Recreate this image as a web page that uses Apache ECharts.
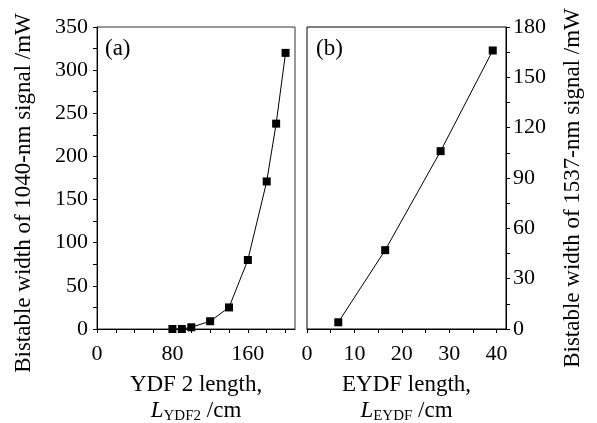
<!DOCTYPE html>
<html>
<head>
<meta charset="utf-8">
<script src="https://cdn.jsdelivr.net/npm/echarts@6/dist/echarts.min.js"></script>
<style>
  html, body { margin: 0; padding: 0; background: #fff; }
  #main { width: 597px; height: 423px; }
</style>
</head>
<body>
<div id="main"></div>
<script>
// (a) YDF 2 length vs bistable width of 1040-nm signal
const lenA = [80, 90, 100, 120, 140, 160, 180, 190, 200]
const widthA = [0, 0, 2, 9, 25, 80, 171, 238, 320]
// (b) EYDF length vs bistable width of 1537-nm signal
const lenB = [6.6, 16.5, 28.2, 39.2]
const widthB = [4, 47, 106, 166]

const font = 'Liberation Serif'
const black = '#000'

const chart = echarts.init(document.getElementById('main'))

// 公共的坐标轴样式
const axisCommon = {
  axisLine: { show: true, onZero: false, lineStyle: { color: black, width: 1 } },
  axisTick: { show: true, inside: false, length: 4, lineStyle: { color: black } },
  splitLine: { show: false },
  nameLocation: 'middle',
  nameTextStyle: { fontFamily: font, fontSize: 23, color: black, lineHeight: 26 }
}

function xName (line1, sub) {
  return line1 + '\n{i|L}{s|' + sub + '} /cm'
}
const xRich = {
  i: { fontFamily: font, fontSize: 23, fontStyle: 'italic', color: black, lineHeight: 26, verticalAlign: 'middle' },
  s: { fontFamily: font, fontSize: 15, color: black, lineHeight: 26, verticalAlign: 'bottom' }
}

const seriesStyle = {
  type: 'line',
  symbol: 'rect',
  symbolSize: 8,
  lineStyle: { color: black, width: 1 },
  itemStyle: { color: black },
  emphasis: { disabled: true },
  animation: false
}

const option = {
  backgroundColor: '#fff',
  title: [
    { text: '(a)', left: 100, top: 32, textStyle: { fontFamily: font, fontSize: 23, fontWeight: 'normal', color: black } },
    { text: '(b)', left: 311, top: 32, textStyle: { fontFamily: font, fontSize: 23, fontWeight: 'normal', color: black } }
  ],
  grid: [
    { left: 97, top: 27, width: 198, height: 302, containLabel: false, outerBoundsMode: 'none', show: true, borderColor: '#333', borderWidth: 1, backgroundColor: 'transparent' },
    { left: 307, top: 27, width: 199, height: 302, containLabel: false, outerBoundsMode: 'none', show: true, borderColor: black, borderWidth: 1, backgroundColor: 'transparent' }
  ],
  xAxis: [
    {
      ...axisCommon,
      gridIndex: 0,
      type: 'value',
      min: 0,
      max: 210,
      interval: 20,
      name: xName('YDF 2 length,', 'YDF2'),
      nameGap: 43,
      nameTextStyle: { ...axisCommon.nameTextStyle, rich: xRich },
      axisLabel: {
        margin: 14,
        fontFamily: font,
        fontSize: 22,
        color: black,
        showMaxLabel: false,
        formatter: v => (v % 80 === 0 ? v : '')
      }
    },
    {
      ...axisCommon,
      gridIndex: 1,
      type: 'value',
      min: 0,
      max: 42,
      interval: 5,
      name: xName('EYDF length,', 'EYDF'),
      nameGap: 43,
      nameTextStyle: { ...axisCommon.nameTextStyle, rich: xRich },
      axisLabel: {
        margin: 14,
        fontFamily: font,
        fontSize: 22,
        color: black,
        showMaxLabel: false,
        formatter: v => (v % 10 === 0 ? v : '')
      }
    }
  ],
  yAxis: [
    {
      ...axisCommon,
      gridIndex: 0,
      type: 'value',
      position: 'left',
      min: 0,
      max: 350,
      interval: 25,
      name: 'Bistable width of 1040-nm signal /mW',
      nameRotate: 90,
      nameGap: 60,
      nameTextStyle: { ...axisCommon.nameTextStyle, padding: [0, 30, 0, 0] },
      axisLabel: {
        margin: 9,
        fontFamily: font,
        fontSize: 22,
        color: black,
        formatter: v => (v % 50 === 0 ? v : '')
      }
    },
    {
      ...axisCommon,
      gridIndex: 1,
      type: 'value',
      position: 'right',
      min: 0,
      max: 180,
      interval: 15,
      name: 'Bistable width of 1537-nm signal /mW',
      nameRotate: 90,
      nameGap: 54,
      nameTextStyle: { ...axisCommon.nameTextStyle, padding: [0, 20, 0, 0] },
      axisLabel: {
        margin: 7,
        fontFamily: font,
        fontSize: 22,
        color: black,
        formatter: v => (v % 30 === 0 ? v : '')
      }
    }
  ],
  series: [
    {
      ...seriesStyle,
      xAxisIndex: 0,
      yAxisIndex: 0,
      data: lenA.map((x, i) => [x, widthA[i]])
    },
    {
      ...seriesStyle,
      xAxisIndex: 1,
      yAxisIndex: 1,
      data: lenB.map((x, i) => [x, widthB[i]])
    }
  ]
}

chart.setOption(option)
</script>
</body>
</html>
